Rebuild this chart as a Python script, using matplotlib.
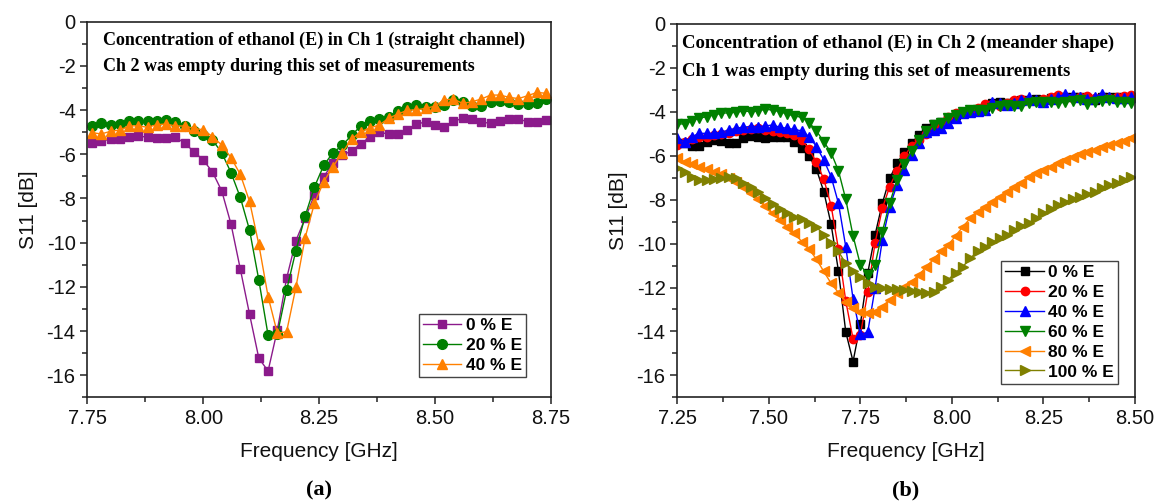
import matplotlib.pyplot as plt
from matplotlib.ticker import MultipleLocator

plt.rcParams['font.family'] = ['Liberation Sans', 'DejaVu Sans']
plt.rcParams['axes.unicode_minus'] = False

# donnees panneau (a) : ethanol dans Ch 1
freq_a = [7.76, 7.78, 7.80, 7.82, 7.84, 7.86, 7.88, 7.90, 7.92, 7.94,
          7.96, 7.98, 8.00, 8.02, 8.04, 8.06, 8.08, 8.10, 8.12, 8.14,
          8.16, 8.18, 8.20, 8.22, 8.24, 8.26, 8.28, 8.30, 8.32, 8.34,
          8.36, 8.38, 8.40, 8.42, 8.44, 8.46, 8.48, 8.50, 8.52, 8.54,
          8.56, 8.58, 8.60, 8.62, 8.64, 8.66, 8.68, 8.70, 8.72, 8.74]
a_e0 = [-5.50, -5.40, -5.32, -5.32, -5.22, -5.17, -5.23, -5.26, -5.26, -5.22,
        -5.50, -5.88, -6.26, -6.80, -7.66, -9.16, -11.19, -13.24, -15.23, -15.81,
        -13.95, -11.61, -9.91, -8.90, -7.84, -7.01, -6.41, -6.05, -5.84, -5.54,
        -5.20, -5.01, -5.08, -5.08, -4.90, -4.63, -4.54, -4.69, -4.78, -4.51,
        -4.37, -4.40, -4.54, -4.60, -4.51, -4.39, -4.39, -4.54, -4.52, -4.45]
a_e20 = [-4.71, -4.60, -4.69, -4.65, -4.51, -4.49, -4.51, -4.49, -4.45, -4.54,
         -4.72, -4.93, -5.13, -5.35, -5.93, -6.83, -7.95, -9.43, -11.69, -14.19,
         -14.15, -12.14, -10.36, -8.79, -7.48, -6.50, -5.93, -5.60, -5.14, -4.72,
         -4.48, -4.40, -4.30, -4.06, -3.88, -3.77, -3.88, -3.85, -3.77, -3.54,
         -3.62, -3.82, -3.83, -3.62, -3.59, -3.62, -3.73, -3.74, -3.70, -3.48]
a_e40 = [-5.02, -5.08, -4.96, -4.90, -4.72, -4.71, -4.78, -4.66, -4.63, -4.72,
         -4.72, -4.83, -4.89, -5.20, -5.58, -6.15, -6.91, -8.13, -10.08, -12.44,
         -14.10, -14.03, -12.02, -9.77, -8.22, -7.24, -6.56, -5.93, -5.32, -4.98,
         -4.80, -4.68, -4.37, -4.18, -4.01, -3.99, -3.92, -3.82, -3.54, -3.50,
         -3.70, -3.62, -3.50, -3.32, -3.32, -3.42, -3.48, -3.35, -3.20, -3.24]

# donnees panneau (b) : ethanol dans Ch 2
freq_b = [7.25, 7.27, 7.29, 7.31, 7.33, 7.35, 7.37, 7.39, 7.41, 7.43,
          7.45, 7.47, 7.49, 7.51, 7.53, 7.55, 7.57, 7.59, 7.61, 7.63,
          7.65, 7.67, 7.69, 7.71, 7.73, 7.75, 7.77, 7.79, 7.81, 7.83,
          7.85, 7.87, 7.89, 7.91, 7.93, 7.95, 7.97, 7.99, 8.01, 8.03,
          8.05, 8.07, 8.09, 8.11, 8.13, 8.15, 8.17, 8.19, 8.21, 8.23,
          8.25, 8.27, 8.29, 8.31, 8.33, 8.35, 8.37, 8.39, 8.41, 8.43,
          8.45, 8.47, 8.49]
b_e0 = [-5.40, -5.43, -5.54, -5.54, -5.36, -5.28, -5.31, -5.40, -5.40, -5.20,
        -5.10, -5.13, -5.20, -5.16, -5.16, -5.16, -5.36, -5.63, -6.01, -6.62,
        -7.63, -9.12, -11.24, -14.02, -15.37, -13.66, -11.35, -9.61, -8.16, -7.03,
        -6.34, -5.84, -5.43, -5.05, -4.72, -4.57, -4.45, -4.29, -4.14, -3.99,
        -3.92, -3.92, -3.76, -3.61, -3.57, -3.58, -3.54, -3.46, -3.46, -3.43,
        -3.46, -3.38, -3.34, -3.34, -3.34, -3.34, -3.38, -3.46, -3.34, -3.31,
        -3.34, -3.38, -3.34]
b_e20 = [-5.50, -5.36, -5.25, -5.13, -5.13, -5.05, -5.01, -4.95, -4.87, -4.83,
         -4.80, -4.75, -4.83, -4.87, -4.90, -4.98, -5.05, -5.28, -5.71, -6.30,
         -7.06, -8.27, -10.24, -12.61, -14.34, -14.16, -12.22, -9.98, -8.39, -7.41,
         -6.68, -6.01, -5.55, -5.28, -5.02, -4.72, -4.49, -4.25, -4.07, -4.04,
         -3.99, -3.84, -3.64, -3.64, -3.73, -3.61, -3.46, -3.40, -3.46, -3.49,
         -3.43, -3.31, -3.23, -3.31, -3.38, -3.34, -3.28, -3.35, -3.31, -3.38,
         -3.34, -3.28, -3.25]
b_e40 = [-5.20, -5.36, -5.13, -4.98, -4.98, -4.98, -4.93, -4.83, -4.75, -4.70,
         -4.67, -4.67, -4.64, -4.60, -4.70, -4.75, -4.80, -4.87, -5.13, -5.58,
         -6.19, -6.95, -8.16, -10.14, -12.52, -14.13, -14.04, -12.03, -9.83, -8.32,
         -7.33, -6.65, -5.96, -5.40, -4.90, -4.83, -4.75, -4.52, -4.29, -4.07,
         -3.99, -3.95, -3.92, -3.54, -3.61, -3.70, -3.58, -3.46, -3.34, -3.46,
         -3.54, -3.43, -3.31, -3.20, -3.23, -3.34, -3.43, -3.31, -3.19, -3.31,
         -3.35, -3.38, -3.31]
b_e60 = [-4.55, -4.55, -4.40, -4.29, -4.22, -4.14, -4.07, -4.04, -4.02, -3.96,
         -3.99, -3.96, -3.88, -3.92, -3.99, -4.10, -4.19, -4.25, -4.49, -4.87,
         -5.36, -5.86, -6.68, -7.98, -9.65, -10.97, -11.43, -10.97, -9.45, -8.16,
         -7.10, -6.37, -5.77, -5.28, -4.87, -4.60, -4.49, -4.29, -4.14, -3.99,
         -3.92, -3.92, -3.92, -3.84, -3.73, -3.70, -3.73, -3.73, -3.61, -3.54,
         -3.54, -3.54, -3.61, -3.54, -3.49, -3.46, -3.64, -3.54, -3.49, -3.46,
         -3.57, -3.54, -3.58]
b_e80 = [-6.12, -6.27, -6.37, -6.49, -6.62, -6.72, -6.84, -7.00, -7.18, -7.41,
         -7.71, -7.98, -8.29, -8.62, -8.92, -9.23, -9.53, -9.91, -10.26, -10.71,
         -11.27, -11.81, -12.23, -12.64, -12.94, -13.10, -13.17, -13.10, -12.87, -12.56,
         -12.26, -11.99, -11.73, -11.43, -11.05, -10.71, -10.36, -10.06, -9.65, -9.23,
         -8.85, -8.54, -8.32, -8.09, -7.86, -7.66, -7.44, -7.22, -6.98, -6.80,
         -6.65, -6.49, -6.31, -6.19, -6.04, -5.92, -5.81, -5.74, -5.58, -5.51,
         -5.40, -5.31, -5.20]
b_e100 = [-6.57, -6.72, -6.95, -7.10, -7.10, -7.07, -7.03, -6.95, -7.03, -7.22,
          -7.44, -7.63, -7.94, -8.19, -8.44, -8.62, -8.77, -8.89, -9.04, -9.23,
          -9.61, -9.98, -10.36, -10.90, -11.27, -11.53, -11.78, -11.96, -12.03, -12.08,
          -12.08, -12.11, -12.14, -12.19, -12.23, -12.19, -11.96, -11.65, -11.32, -11.05,
          -10.67, -10.36, -10.14, -9.95, -9.76, -9.61, -9.38, -9.20, -9.04, -8.85,
          -8.62, -8.44, -8.24, -8.09, -7.98, -7.86, -7.74, -7.63, -7.48, -7.33,
          -7.25, -7.10, -6.95]

xticks_a = ['7.75', '8.00', '8.25', '8.50', '8.75']
xticks_b = ['7.25', '7.50', '7.75', '8.00', '8.25', '8.50']
yticks = ['-16', '-14', '-12', '-10', '-8', '-6', '-4', '-2', '0']

fig = plt.figure(figsize=(11.63, 5.04), dpi=100)
ax1 = fig.add_axes([0.0751, 0.2117, 0.3985, 0.7452])
ax2 = fig.add_axes([0.5824, 0.2117, 0.3935, 0.7407])


def mise_en_forme(ax, labels_x):
    ax.set_ylim(-17, 0)
    ax.set_xlim(float(labels_x[0]), float(labels_x[-1]))
    ax.set_xticks([float(v) for v in labels_x])
    ax.set_xticklabels(labels_x)
    ax.set_yticks([float(v) for v in yticks])
    ax.set_yticklabels(yticks)
    ax.xaxis.set_minor_locator(MultipleLocator(0.125))
    ax.yaxis.set_minor_locator(MultipleLocator(1))
    ax.tick_params(which='major', direction='out', length=5, width=1.1,
                   labelsize=14.5, top=False, right=False, colors='#222222',
                   labelcolor='#111111')
    ax.tick_params(which='minor', direction='out', length=3.5, width=1.1,
                   top=False, right=False, colors='#222222')
    for s in ax.spines.values():
        s.set_linewidth(1.2)
        s.set_color('#222222')
    ax.set_xlabel('Frequency [GHz]', fontsize=15, labelpad=10, color='#111111')
    ax.set_ylabel('S11 [dB]', fontsize=15, labelpad=6, color='#111111')


def legende(ax, ancre):
    ax.legend(loc='lower right', bbox_to_anchor=ancre, prop={'weight': 'bold', 'size': 12.5},
              fancybox=False, edgecolor='#444444', framealpha=1, borderpad=0.25,
              labelspacing=0.27, handlelength=2.2, handletextpad=0.25, borderaxespad=0)


# (a)
ax1.plot(freq_a, a_e0, color='#8B1A8B', marker='s', markersize=6, lw=1, label='0 % E')
ax1.plot(freq_a, a_e20, color='#007F00', marker='o', markersize=7, lw=1, label='20 % E')
ax1.plot(freq_a, a_e40, color='#FF8000', marker='^', markersize=7.5, lw=1, label='40 % E')
mise_en_forme(ax1, xticks_a)
ax1.text(0.034, 0.951, 'Concentration of ethanol (E) in Ch 1 (straight channel)',
         transform=ax1.transAxes, va='center', ha='left', fontsize=13,
         fontweight='bold', family='Liberation Serif')
ax1.text(0.034, 0.882, 'Ch 2 was empty during this set of measurements',
         transform=ax1.transAxes, va='center', ha='left', fontsize=13,
         fontweight='bold', family='Liberation Serif')
legende(ax1, (0.947, 0.054))

# (b)
ax2.plot(freq_b, b_e0, color='black', marker='s', markersize=5.5, lw=1, label='0 % E')
ax2.plot(freq_b, b_e20, color='#FF0000', marker='o', markersize=6, lw=1, label='20 % E')
ax2.plot(freq_b, b_e40, color='#0000FF', marker='^', markersize=6.5, lw=1, label='40 % E')
ax2.plot(freq_b, b_e60, color='#008000', marker='v', markersize=6.5, lw=1, label='60 % E')
ax2.plot(freq_b, b_e80, color='#FF8000', marker='<', markersize=6.5, lw=1, label='80 % E')
ax2.plot(freq_b, b_e100, color='#808000', marker='>', markersize=6.5, lw=1, label='100 % E')
mise_en_forme(ax2, xticks_b)
ax2.text(0.01, 0.949, 'Concentration of ethanol (E) in Ch 2 (meander shape)',
         transform=ax2.transAxes, va='center', ha='left', fontsize=13.5,
         fontweight='bold', family='Liberation Serif')
ax2.text(0.01, 0.874, 'Ch 1 was empty during this set of measurements',
         transform=ax2.transAxes, va='center', ha='left', fontsize=13.5,
         fontweight='bold', family='Liberation Serif')
legende(ax2, (0.963, 0.036))

# legendes (a) et (b)
fig.text(0.2743, 0.027, '(a)', ha='center', va='center', fontsize=16,
         fontweight='bold', family='Liberation Serif')
fig.text(0.7789, 0.027, '(b)', ha='center', va='center', fontsize=16,
         fontweight='bold', family='Liberation Serif')

fig.savefig('out.png', dpi=100)
